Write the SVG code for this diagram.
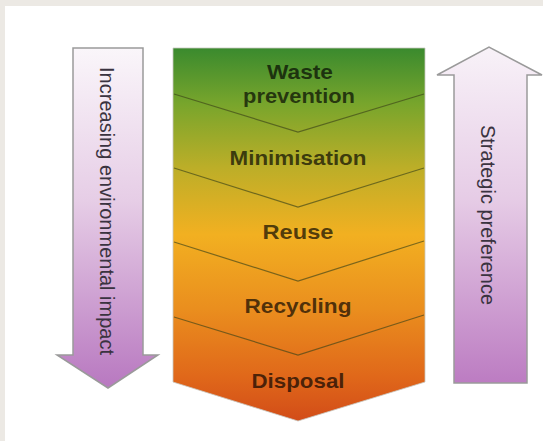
<svg xmlns="http://www.w3.org/2000/svg" width="543" height="441" viewBox="0 0 543 441">
  <style>
    .arrow { stroke: #9a9a9a; stroke-width: 1.5; }
    .side { font-family: "Liberation Sans", Arial, sans-serif; font-size: 20px; fill: #3a3340; }
    .lbl { font-family: "Liberation Sans", Arial, sans-serif; font-size: 21px; font-weight: bold; fill: #000; fill-opacity: 0.68; text-anchor: middle; }
    .div { fill: none; stroke: #3c4418; stroke-opacity: 0.65; stroke-width: 1.2; }
  </style>
  <defs>
    <linearGradient id="purpleDown" x1="0" y1="0" x2="0" y2="1">
      <stop offset="0" stop-color="#faf6fa"/>
      <stop offset="0.45" stop-color="#e6cde6"/>
      <stop offset="1" stop-color="#b878c0"/>
    </linearGradient>
    <linearGradient id="purpleUp" x1="0" y1="0" x2="0" y2="1">
      <stop offset="0" stop-color="#f8f2f8"/>
      <stop offset="0.45" stop-color="#e6cce6"/>
      <stop offset="1" stop-color="#bc7cc2"/>
    </linearGradient>
    <linearGradient id="heat" x1="0" y1="0" x2="0" y2="1">
      <stop offset="0" stop-color="#3a8a2e"/>
      <stop offset="0.15" stop-color="#78a52c"/>
      <stop offset="0.32" stop-color="#bcae28"/>
      <stop offset="0.5" stop-color="#f2b021"/>
      <stop offset="0.7" stop-color="#ea8e1e"/>
      <stop offset="0.88" stop-color="#e0681a"/>
      <stop offset="1" stop-color="#d24c18"/>
    </linearGradient>
  </defs>

  <rect x="0" y="0" width="543" height="441" fill="#ffffff"/>
  <rect x="0" y="0" width="543" height="6" fill="#ece9e4"/>
  <rect x="0" y="0" width="5" height="441" fill="#ece9e4"/>

  <g id="impact-arrow">
    <path class="arrow" fill="url(#purpleDown)" d="M73,48 L143,48 L143,355 L158,355 L108,388 L57,355 L73,355 Z"/>
    <text class="side" transform="translate(100,211) rotate(90)" text-anchor="middle">Increasing environmental impact</text>
  </g>

  <g id="hierarchy">
    <path fill="url(#heat)" stroke="#c8c8c0" stroke-width="0.8" d="M173,48 L425,48 L425,382 L298,421 L173,382 Z"/>
    <g id="dividers">
      <path class="div" d="M174,94 L298,132 L424,94"/>
      <path class="div" d="M174,168 L298,207 L424,168"/>
      <path class="div" d="M174,242 L298,281 L424,241"/>
      <path class="div" d="M174,317 L298,355 L424,315"/>
    </g>
    <g id="waste-prevention">
      <text class="lbl" x="300" y="79" textLength="66" lengthAdjust="spacingAndGlyphs">Waste</text>
      <text class="lbl" x="299" y="103" textLength="112" lengthAdjust="spacingAndGlyphs">prevention</text>
    </g>
    <g id="minimisation">
      <text class="lbl" x="298" y="165" textLength="137" lengthAdjust="spacingAndGlyphs">Minimisation</text>
    </g>
    <g id="reuse">
      <text class="lbl" x="298" y="239" textLength="71" lengthAdjust="spacingAndGlyphs">Reuse</text>
    </g>
    <g id="recycling">
      <text class="lbl" x="298" y="313" textLength="107" lengthAdjust="spacingAndGlyphs">Recycling</text>
    </g>
    <g id="disposal">
      <text class="lbl" x="298" y="388" textLength="93" lengthAdjust="spacingAndGlyphs">Disposal</text>
    </g>
  </g>

  <g id="preference-arrow">
    <path class="arrow" fill="url(#purpleUp)" d="M454,383 L527,383 L527,75 L542,75 L489,47 L437,75 L454,75 Z"/>
    <text class="side" transform="translate(481,215) rotate(90)" text-anchor="middle">Strategic preference</text>
  </g>
</svg>
